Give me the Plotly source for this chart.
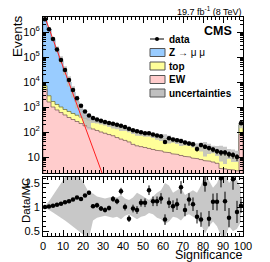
import plotly.graph_objects as go

# ---------------- data ----------------
bin_edges = list(range(0, 102, 2))
bin_centers = [e + 1 for e in bin_edges[:-1]]

data_counts = [3.2e6, 1.3e6, 5.2e5, 2.0e5, 7.6e4, 3.0e4, 1.2e4, 4800, 2240, 1120,
               660, 457, 363, 316, 282, 251, 229, 214, 195, 178,
               158, 135, 117, 107, 98, 89, 89, 79, 72, 68,
               40, 56, 50, 47, 44, 38, 35, 32, 21, 30,
               26, 23, 20, 17, 15, 15, 13, 12, 10, 224]

ew_counts = [5000, 1580, 1000, 760, 600, 480, 380, 316, 263, 219,
             178, 151, 132, 115, 100, 89, 79, 71, 60, 52,
             46, 40, 32, 28, 26, 24, 22, 20, 18.6, 17.4,
             15.8, 14.8, 13.5, 12.6, 11.5, 10.7, 10, 9.1, 8.5, 7.9,
             7.2, 6.8, 6.3, 5.6, 3.5, 3.3, 3.2, 3.0, 2.8, 79]

top_counts = [2080, 1240, 660, 500, 400, 314, 281, 234, 205, 179,
              169, 151, 143, 136, 129, 120, 112, 103, 98, 93,
              86, 75, 73, 67, 61, 55, 52, 48, 44, 40.6,
              38, 35, 32.5, 29.4, 26.5, 24.8, 22.4, 21.1, 19, 17.8,
              16.2, 15.1, 13.7, 12.6, 13.1, 11.8, 10.6, 9.6, 8.7, 121]

zmm_counts = [3.19e6, 1.317e6, 4.98e5, 1.89e5, 7.0e4, 2.55e4, 9340, 3430, 1190, 396,
              132, 61, 41, 31, 22, 12, 8, 5, 3, 2,
              1, 0.5, 0, 0, 0, 0, 0, 0, 0, 0,
              0, 0, 0, 0, 0, 0, 0, 0, 0, 0,
              0, 0, 0, 0, 0, 0, 0, 0, 0, 0]

ratio_vals = [1.0, 1.01, 1.03, 1.05, 1.07, 1.1, 1.12, 1.16, 1.2, 1.17,
              1.24, 1.3, 1.02, 1.04, 0.97, 0.94, 0.98, 1.17, 1.12, 1.33,
              1.0, 0.76, 0.97, 0.94, 1.09, 1.09, 1.35, 1.12, 1.12, 1.18,
              0.74, 1.09, 1.02, 1.06, 1.41, 0.94, 1.16, 1.06, 0.8, 0.74,
              1.48, 0.76, 1.11, 1.11, 1.6, 1.12, 0.78, 1.58, 0.9, 1.03]

ratio_errs = [0.005, 0.005, 0.005, 0.005, 0.01, 0.01, 0.01, 0.015, 0.02, 0.025,
              0.03, 0.04, 0.04, 0.05, 0.05, 0.05, 0.05, 0.06, 0.06, 0.07,
              0.07, 0.07, 0.08, 0.08, 0.08, 0.09, 0.1, 0.1, 0.1, 0.11,
              0.11, 0.11, 0.12, 0.12, 0.13, 0.13, 0.13, 0.14, 0.14, 0.15,
              0.16, 0.16, 0.17, 0.18, 0.19, 0.2, 0.2, 0.22, 0.23, 0.15]

band_hi = [1.02, 1.12, 1.25, 1.38, 1.5, 1.62, 1.7, 1.7, 1.7, 1.6,
           1.45, 1.3, 1.28, 1.22, 1.2, 1.18, 1.2, 1.22, 1.2, 1.25,
           1.18, 1.15, 1.2, 1.3, 1.25, 1.2, 1.15, 1.22, 1.3, 1.35,
           1.5, 1.45, 1.3, 1.35, 1.4, 1.25, 1.3, 1.35, 1.3, 1.45,
           1.7, 1.55, 1.4, 1.5, 1.7, 1.7, 1.5, 1.6, 1.55, 1.4]
band_lo = [0.98, 0.94, 0.89, 0.84, 0.78, 0.72, 0.66, 0.6, 0.53, 0.47,
           0.4, 0.35, 0.72, 0.78, 0.8, 0.82, 0.8, 0.78, 0.8, 0.75,
           0.82, 0.85, 0.8, 0.75, 0.8, 0.82, 0.88, 0.85, 0.78, 0.75,
           0.65, 0.7, 0.8, 0.78, 0.72, 0.82, 0.85, 0.8, 0.75, 0.65,
           0.45, 0.6, 0.7, 0.6, 0.4, 0.35, 0.6, 0.5, 0.55, 0.7]

fit_x = [0, 30]
fit_y = [6.3e6, 1.8]

x_ticks = [0, 10, 20, 30, 40, 50, 60, 70, 80, 90, 100]
y_top_ticks = [10, 100, 1e3, 1e4, 1e5, 1e6]
y_top_labels = ["10", "10<sup>2</sup>", "10<sup>3</sup>", "10<sup>4</sup>", "10<sup>5</sup>", "10<sup>6</sup>"]
y_bot_ticks = [0.5, 1, 1.5]
y_bot_labels = ["0.5", "1", "1.5"]

# ---------------- helpers ----------------
FONT = "Liberation Sans, Arial, sans-serif"
FLOOR = 1e-3


def step_poly(vals):
    xs, ys = [], []
    for i, v in enumerate(vals):
        xs += [bin_edges[i], bin_edges[i + 1]]
        ys += [max(v, FLOOR), max(v, FLOOR)]
    xs += [bin_edges[-1], bin_edges[0], bin_edges[0]]
    ys += [FLOOR, FLOOR, ys[0]]
    return xs, ys


cum_ew = list(ew_counts)
cum_top = [a + b for a, b in zip(ew_counts, top_counts)]
cum_all = [a + b for a, b in zip(cum_top, zmm_counts)]

fig = go.Figure()

for vals, fc, lc in [(cum_all, "#99ccff", "#6688aa"),
                     (cum_top, "#ffff99", "#77773a"),
                     (cum_ew, "#ffcccc", "#806060")]:
    xs, ys = step_poly(vals)
    fig.add_trace(go.Scatter(x=xs, y=ys, xaxis="x2", yaxis="y2", mode="lines",
                             fill="toself", fillcolor=fc,
                             line=dict(color=lc, width=0.8), hoverinfo="skip",
                             showlegend=False))

# uncertainty boxes on top panel
bx, by = [], []
for i, tot in enumerate(cum_all):
    lo, hi = tot * band_lo[i], tot * band_hi[i]
    bx += [bin_edges[i], bin_edges[i + 1], bin_edges[i + 1], bin_edges[i], bin_edges[i], None]
    by += [lo, lo, hi, hi, lo, None]
fig.add_trace(go.Scatter(x=bx, y=by, xaxis="x2", yaxis="y2", mode="lines",
                         fill="toself", fillcolor="rgba(190,190,190,0.85)",
                         line=dict(width=0), hoverinfo="skip", showlegend=False))

# fit line
fig.add_trace(go.Scatter(x=fit_x, y=fit_y, xaxis="x2", yaxis="y2", mode="lines",
                         line=dict(color="#ff2020", width=1), showlegend=False))

# data
fig.add_trace(go.Scatter(x=bin_centers, y=data_counts, xaxis="x2", yaxis="y2",
                         mode="markers", marker=dict(color="black", size=4.5),
                         error_y=dict(type="data", array=[v ** 0.5 for v in data_counts],
                                      color="black", thickness=1, width=0),
                         showlegend=False))

# ratio band
rx = bin_centers + bin_centers[::-1]
ry = band_hi + band_lo[::-1]
fig.add_trace(go.Scatter(x=[0] + rx + [0], y=[1.0] + ry + [1.0], xaxis="x", yaxis="y",
                         mode="lines", fill="toself", fillcolor="#c8c8c8",
                         line=dict(width=0), hoverinfo="skip", showlegend=False))

fig.add_trace(go.Scatter(x=bin_centers, y=ratio_vals, xaxis="x", yaxis="y",
                         mode="markers", marker=dict(color="black", size=4.5),
                         error_y=dict(type="data", array=ratio_errs, color="black",
                                      thickness=1, width=0),
                         cliponaxis=True, showlegend=False))

# ---------------- layout ----------------
W, H = 270, 262
ML, MR, MT, MB = 43, 27, 17, 26
PW, PH = W - ML - MR, H - MT - MB


def px(xp):
    return (xp - ML) / PW


def py(yp):
    return (H - MB - yp) / PH


axis_common = dict(showline=True, linecolor="black", linewidth=1, mirror="allticks",
                   ticks="inside", tickcolor="black", showgrid=False, zeroline=False,
                   automargin=False,
                   tickfont=dict(family=FONT, size=11, color="black"))

top_minor = [m * 10 ** n for n in range(0, 7) for m in range(2, 10)]

fig.update_layout(
    width=W, height=H, margin=dict(l=ML, r=MR, t=MT, b=MB, autoexpand=False),
    paper_bgcolor="white", plot_bgcolor="white", showlegend=False,
    xaxis=dict(domain=[0, 1], anchor="y", range=[0, 100], tickvals=x_ticks,
               ticklen=6, minor=dict(ticks="inside", ticklen=3, dtick=2, tickcolor="black"),
               ticklabelstandoff=0, **axis_common),
    yaxis=dict(domain=[0, py(177)], anchor="x", range=[0.4, 1.625],
               tickvals=y_bot_ticks, ticktext=y_bot_labels, ticklen=6,
               minor=dict(ticks="inside", ticklen=3, dtick=0.1, tickcolor="black"),
               **axis_common),
    xaxis2=dict(domain=[0, 1], anchor="y2", range=[0, 100], tickvals=x_ticks,
                showticklabels=False, ticklen=6,
                minor=dict(ticks="inside", ticklen=3, dtick=2, tickcolor="black"),
                matches="x", **axis_common),
    yaxis2=dict(domain=[py(173), 1], anchor="x2", type="log", range=[0.36, 6.6],
                tickvals=y_top_ticks, ticktext=y_top_labels, ticklen=6,
                minor=dict(ticks="inside", ticklen=3, tickvals=top_minor, tickcolor="black"),
                **axis_common),
)

ann = []
shapes = []
# legend
leg_rows = [39, 52.5, 66, 79.5, 93]
shapes.append(dict(type="line", xref="paper", yref="paper", x0=px(150), x1=px(164),
                   y0=py(leg_rows[0]), y1=py(leg_rows[0]), line=dict(color="black", width=1)))
shapes.append(dict(type="circle", xref="paper", yref="paper", x0=px(155), x1=px(159),
                   y0=py(leg_rows[0] + 2), y1=py(leg_rows[0] - 2),
                   fillcolor="black", line=dict(color="black", width=0)))
for yr, fc in zip(leg_rows[1:], ["#99ccff", "#ffff99", "#ffcccc", "#c0c0c0"]):
    shapes.append(dict(type="rect", xref="paper", yref="paper", x0=px(150), x1=px(165),
                       y0=py(yr + 4), y1=py(yr - 4), fillcolor=fc,
                       line=dict(color="#555555", width=1)))
leg_texts = ["<b>data</b>", "<b>Z</b> \u2192 \u03bc \u03bc", "<b>top</b>", "<b>EW</b>",
             "<b>uncertainties</b>"]
for yr, t in zip(leg_rows, leg_texts):
    ann.append(dict(text=t, xref="paper", yref="paper", x=px(167), y=py(yr), xanchor="left",
                    yanchor="middle", showarrow=False,
                    font=dict(family=FONT, size=10, color="black")))

ann.append(dict(text="<b>CMS</b>", xref="paper", yref="paper", x=px(234), y=py(31.5),
                xanchor="right", yanchor="middle", showarrow=False,
                font=dict(family=FONT, size=12.5, color="black")))
ann.append(dict(text="19.7 fb<sup>-1</sup> (8 TeV)", xref="paper", yref="paper",
                x=px(244), y=py(11), xanchor="right", yanchor="middle", showarrow=False,
                font=dict(family=FONT, size=9, color="black")))
ann.append(dict(text="Events", xref="paper", yref="paper", x=px(17), y=py(36),
                xanchor="center", yanchor="middle", textangle=-90, showarrow=False,
                font=dict(family=FONT, size=13.5, color="black")))
ann.append(dict(text="Data/MC", xref="paper", yref="paper", x=px(26), y=py(201),
                xanchor="center", yanchor="middle", textangle=-90, showarrow=False,
                font=dict(family=FONT, size=11.5, color="black")))
ann.append(dict(text="Significance", xref="paper", yref="paper", x=px(244), y=py(255),
                xanchor="right", yanchor="middle", showarrow=False,
                font=dict(family=FONT, size=12.5, color="black")))

fig.update_layout(annotations=ann, shapes=shapes)

fig.write_html("out.html", config={"displayModeBar": False})

# remove the default page margin so the figure sits at the window's top-left corner
with open("out.html", "r", encoding="utf-8") as f:
    html = f.read()
html = html.replace("<head>", "<head><style>html,body{margin:0;padding:0;overflow:hidden;}</style>", 1)
with open("out.html", "w", encoding="utf-8") as f:
    f.write(html)
